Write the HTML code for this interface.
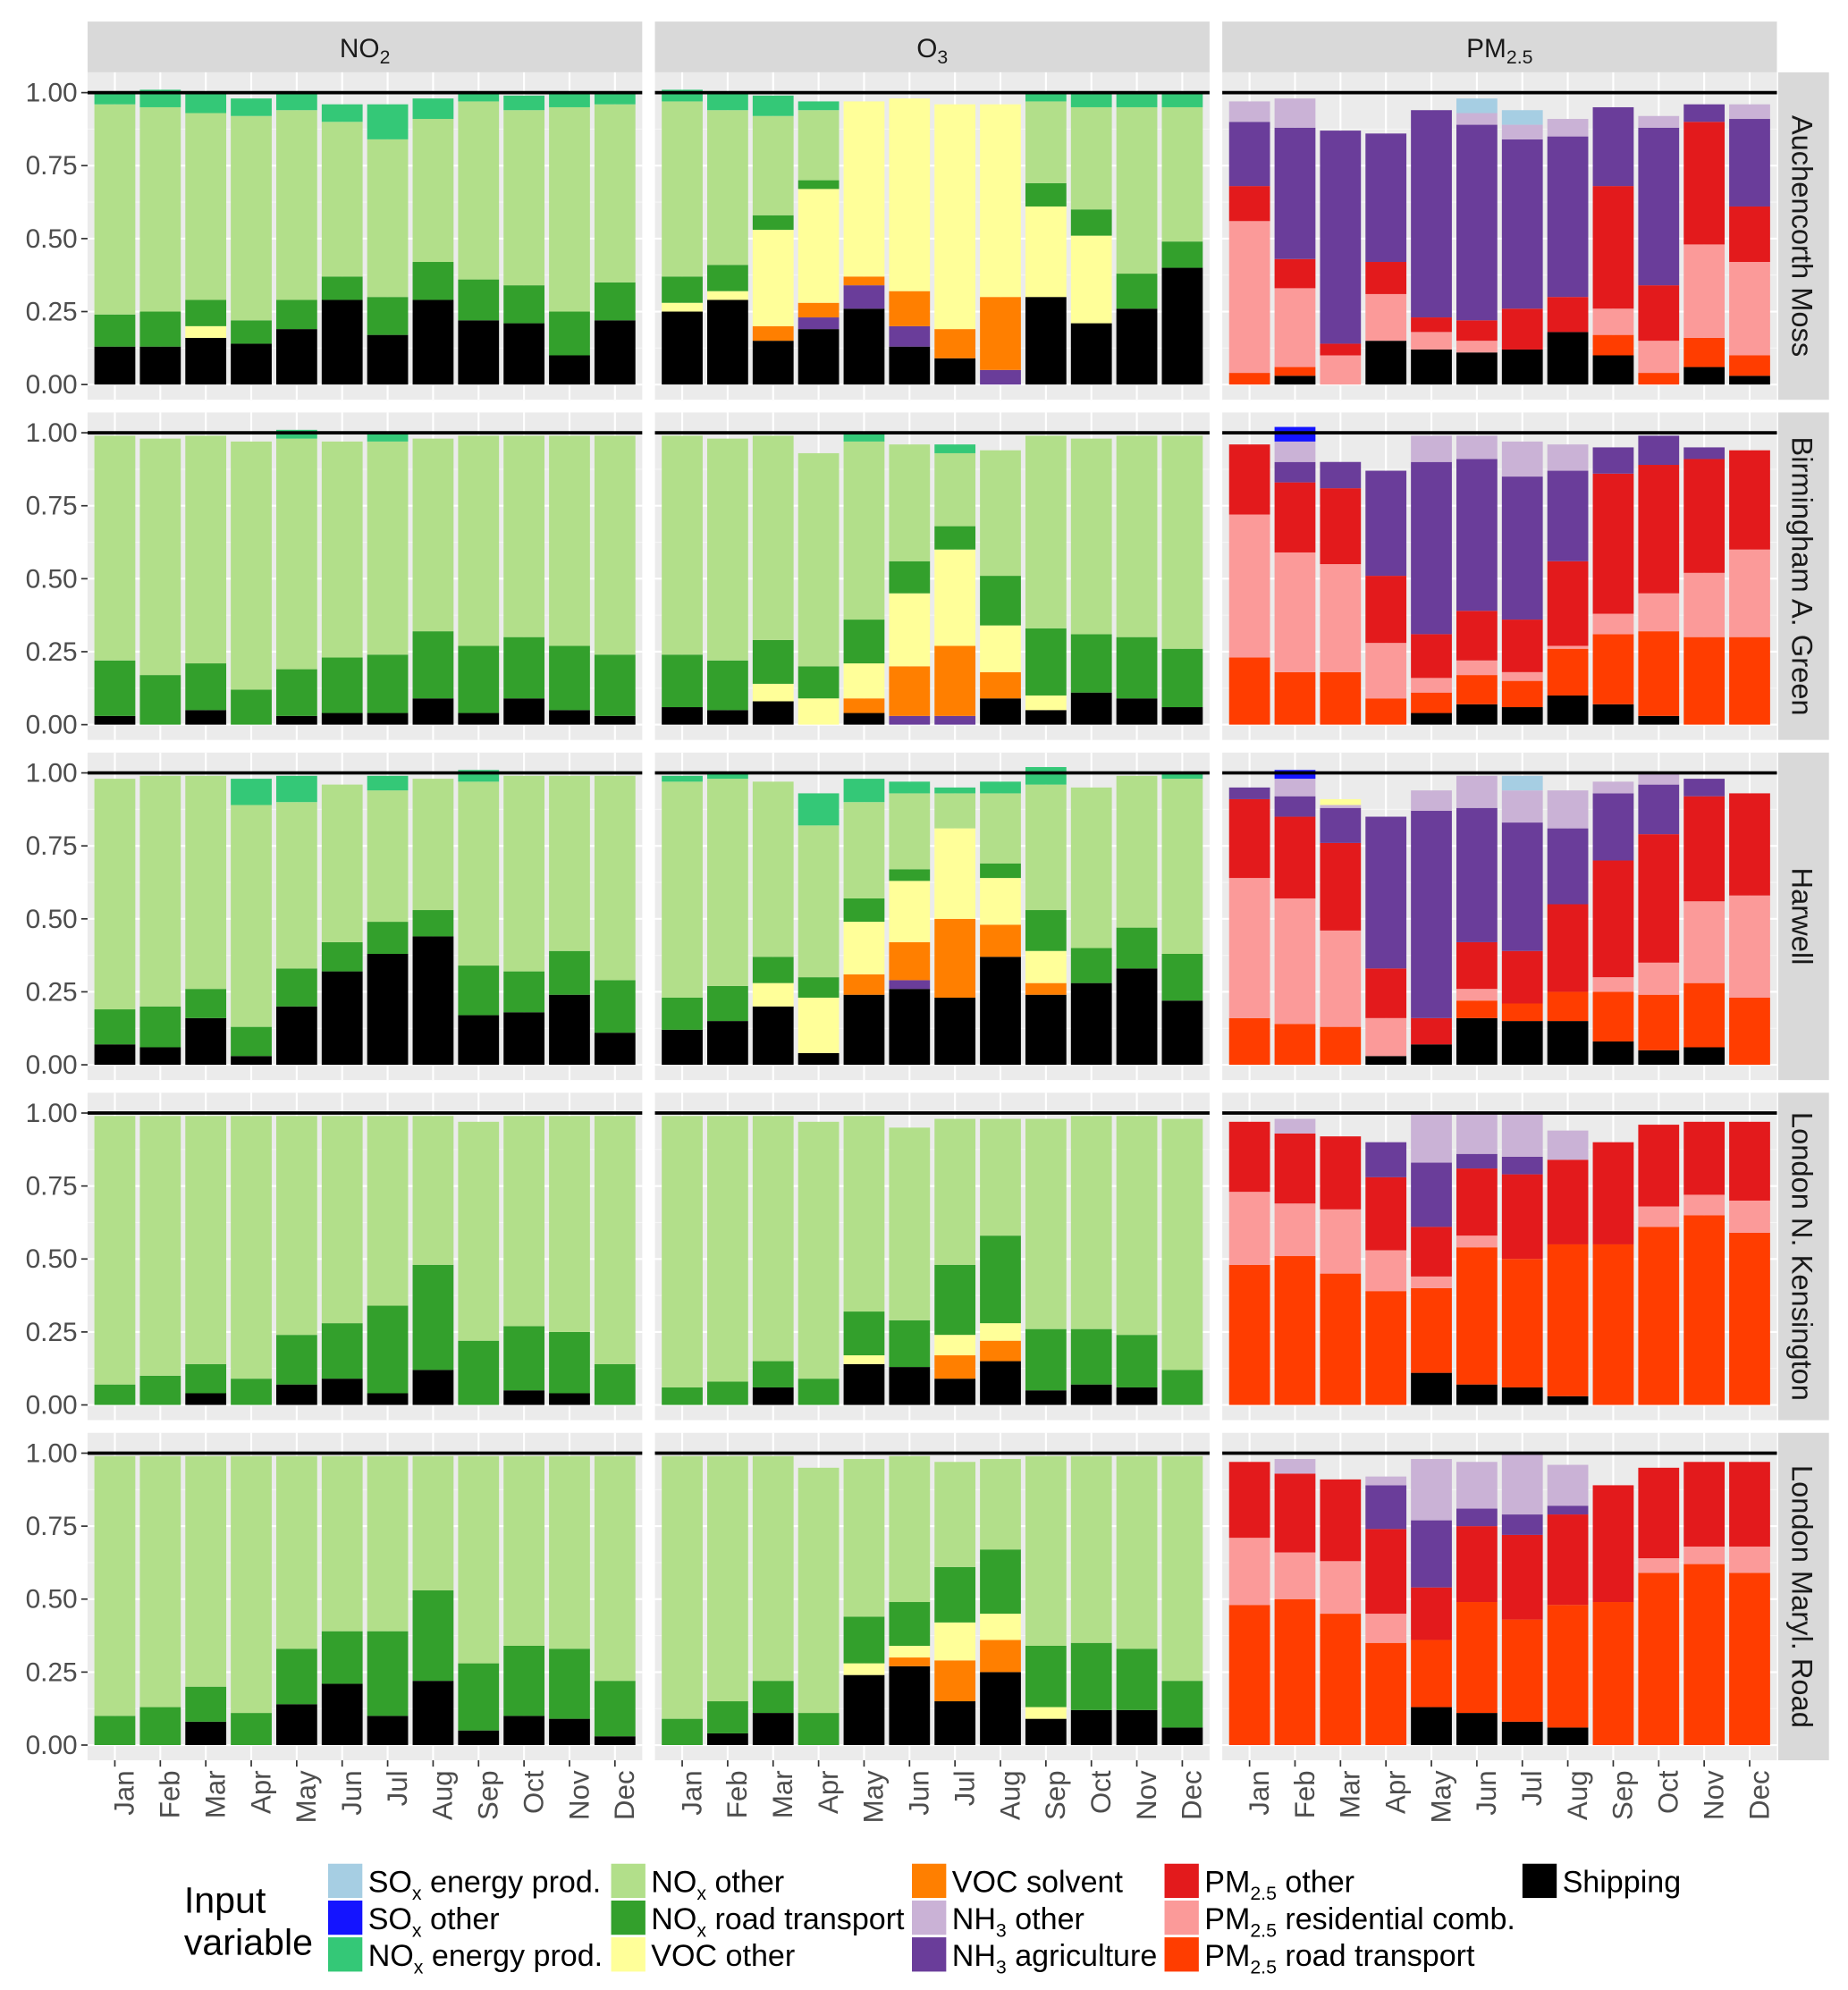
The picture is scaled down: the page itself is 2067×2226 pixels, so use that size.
<!DOCTYPE html>
<html><head><meta charset="utf-8">
<style>
html,body{margin:0;padding:0;background:#fff;}
svg{display:block;font-family:"Liberation Sans",sans-serif;}
.nar{font-family:"Liberation Sans Narrow","Liberation Sans",sans-serif;}
</style></head>
<body>
<svg id="chart" width="2067" height="2226" viewBox="0 0 1456 1568" preserveAspectRatio="none" xmlns="http://www.w3.org/2000/svg"></svg>
<script>
// ---------- data ----------
const months = ["Jan","Feb","Mar","Apr","May","Jun","Jul","Aug","Sep","Oct","Nov","Dec"];
const pollutants = ["NO2","O3","PM2.5"];
const sites = ["Auchencorth Moss","Birmingham A. Green","Harwell","London N. Kensington","London Maryl. Road"];
const yTicks = [0,0.25,0.5,0.75,1.0];
const yTickLabels = ["0.00","0.25","0.50","0.75","1.00"];

// Auchencorth Moss
const auch_no2_sh = [.13,.13,.16,.14,.19,.29,.17,.29,.22,.21,.10,.22];
const auch_no2_vo = [0,0,.04,0,0,0,0,0,0,0,0,0];
const auch_no2_xr = [.11,.12,.09,.08,.10,.08,.13,.13,.14,.13,.15,.13];
const auch_no2_xo = [.72,.70,.64,.70,.65,.53,.54,.49,.61,.60,.70,.61];
const auch_no2_xe = [.04,.06,.07,.06,.06,.06,.12,.07,.03,.05,.05,.04];
const auch_o3_sh = [.25,.29,.15,.19,.26,.13,.09,0,.30,.21,.26,.40];
const auch_o3_na = [0,0,0,.04,.08,.07,0,.05,0,0,0,0];
const auch_o3_vs = [0,0,.05,.05,.03,.12,.10,.25,0,0,0,0];
const auch_o3_vo = [.03,.03,.33,.39,.60,.66,.77,.66,.31,.30,0,0];
const auch_o3_xr = [.09,.09,.05,.03,0,0,0,0,.08,.09,.12,.09];
const auch_o3_xo = [.60,.53,.34,.24,0,0,0,0,.28,.35,.57,.46];
const auch_o3_xe = [.04,.06,.07,.03,0,0,0,0,.03,.05,.05,.05];
const auch_pm_sh = [0,.03,0,.15,.12,.11,.12,.18,.10,0,.06,.03];
const auch_pm_pr = [.04,.03,0,0,0,0,0,0,.07,.04,.10,.07];
const auch_pm_pres = [.52,.27,.10,.16,.06,.04,0,0,.09,.11,.32,.32];
const auch_pm_po = [.12,.10,.04,.11,.05,.07,.14,.12,.42,.19,.42,.19];
const auch_pm_na = [.22,.45,.73,.44,.71,.67,.58,.55,.27,.54,.06,.30];
const auch_pm_no = [.07,.10,0,0,0,.04,.05,.06,0,.04,0,.05];
const auch_pm_se = [0,0,0,0,0,.05,.05,0,0,0,0,0];
// Birmingham
const birm_no2_sh = [.03,0,.05,0,.03,.04,.04,.09,.04,.09,.05,.03];
const birm_no2_xr = [.19,.17,.16,.12,.16,.19,.20,.23,.23,.21,.22,.21];
const birm_no2_xo = [.77,.81,.78,.85,.79,.74,.73,.66,.72,.69,.72,.75];
const birm_no2_xe = [0,0,0,0,.03,0,.03,0,0,0,0,0];
const birm_o3_sh = [.06,.05,.08,0,.04,0,0,.09,.05,.11,.09,.06];
const birm_o3_na = [0,0,0,0,0,.03,.03,0,0,0,0,0];
const birm_o3_vs = [0,0,0,0,.05,.17,.24,.09,0,0,0,0];
const birm_o3_vo = [0,0,.06,.09,.12,.25,.33,.16,.05,0,0,0];
const birm_o3_xr = [.18,.17,.15,.11,.15,.11,.08,.17,.23,.20,.21,.20];
const birm_o3_xo = [.75,.76,.70,.73,.61,.40,.25,.43,.66,.67,.69,.73];
const birm_o3_xe = [0,0,0,0,.03,0,.03,0,0,0,0,0];
const birm_pm_sh = [0,0,0,0,.04,.07,.06,.10,.07,.03,0,0];
const birm_pm_pr = [.23,.18,.18,.09,.07,.10,.09,.16,.24,.29,.30,.30];
const birm_pm_pres = [.49,.41,.37,.19,.05,.05,.03,.01,.07,.13,.22,.30];
const birm_pm_po = [.24,.24,.26,.23,.15,.17,.18,.29,.48,.44,.39,.34];
const birm_pm_na = [0,.07,.09,.36,.59,.52,.49,.31,.09,.10,.04,0];
const birm_pm_no = [0,.07,0,0,.09,.08,.12,.09,0,0,0,0];
const birm_pm_so = [0,.05,0,0,0,0,0,0,0,0,0,0];
// Harwell
const harw_no2_sh = [.07,.06,.16,.03,.20,.32,.38,.44,.17,.18,.24,.11];
const harw_no2_xr = [.12,.14,.10,.10,.13,.10,.11,.09,.17,.14,.15,.18];
const harw_no2_xo = [.79,.79,.73,.76,.57,.54,.45,.45,.63,.67,.60,.70];
const harw_no2_xe = [0,0,0,.09,.09,0,.05,0,.04,0,0,0];
const harw_o3_sh = [.12,.15,.20,.04,.24,.26,.23,.37,.24,.28,.33,.22];
const harw_o3_na = [0,0,0,0,0,.03,0,0,0,0,0,0];
const harw_o3_vs = [0,0,0,0,.07,.13,.27,.11,.04,0,0,0];
const harw_o3_vo = [0,0,.08,.19,.18,.21,.31,.16,.11,0,0,0];
const harw_o3_xr = [.11,.12,.09,.07,.08,.04,0,.05,.14,.12,.14,.16];
const harw_o3_xo = [.74,.71,.60,.52,.33,.26,.12,.24,.43,.55,.52,.60];
const harw_o3_xe = [.02,.02,0,.11,.08,.04,.02,.04,.06,0,0,.02];
const harw_pm_sh = [0,0,0,.03,.07,.16,.15,.15,.08,.05,.06,0];
const harw_pm_pr = [.16,.14,.13,0,0,.06,.06,.10,.17,.19,.22,.23];
const harw_pm_pres = [.48,.43,.33,.13,0,.04,0,0,.05,.11,.28,.35];
const harw_pm_po = [.27,.28,.30,.17,.09,.16,.18,.30,.40,.44,.36,.35];
const harw_pm_na = [.04,.07,.12,.52,.71,.46,.44,.26,.23,.17,.06,0];
const harw_pm_no = [0,.06,.01,0,.07,.11,.11,.13,.04,.04,0,0];
const harw_pm_vo = [0,0,.02,0,0,0,0,0,0,0,0,0];
const harw_pm_so = [0,.03,0,0,0,0,0,0,0,0,0,0];
const harw_pm_se = [0,0,0,0,0,0,.05,0,0,0,0,0];
// London N. Kensington
const kens_no2_sh = [0,0,.04,0,.07,.09,.04,.12,0,.05,.04,0];
const kens_no2_xr = [.07,.10,.10,.09,.17,.19,.30,.36,.22,.22,.21,.14];
const kens_no2_xo = [.92,.89,.85,.90,.75,.71,.65,.51,.75,.72,.74,.85];
const kens_o3_sh = [0,0,.06,0,.14,.13,.09,.15,.05,.07,.06,0];
const kens_o3_vs = [0,0,0,0,0,0,.08,.07,0,0,0,0];
const kens_o3_vo = [0,0,0,0,.03,0,.07,.06,0,0,0,0];
const kens_o3_xr = [.06,.08,.09,.09,.15,.16,.24,.30,.21,.19,.18,.12];
const kens_o3_xo = [.93,.91,.84,.88,.67,.66,.50,.40,.72,.73,.75,.86];
const kens_pm_sh = [0,0,0,0,.11,.07,.06,.03,0,0,0,0];
const kens_pm_pr = [.48,.51,.45,.39,.29,.47,.44,.52,.55,.61,.65,.59];
const kens_pm_pres = [.25,.18,.22,.14,.04,.04,0,0,0,.07,.07,.11];
const kens_pm_po = [.24,.24,.25,.25,.17,.23,.29,.29,.35,.28,.25,.27];
const kens_pm_na = [0,0,0,.12,.22,.05,.06,0,0,0,0,0];
const kens_pm_no = [0,.05,0,0,.17,.14,.15,.10,0,0,0,0];
// London Marylebone Road
const mary_no2_sh = [0,0,.08,0,.14,.21,.10,.22,.05,.10,.09,.03];
const mary_no2_xr = [.10,.13,.12,.11,.19,.18,.29,.31,.23,.24,.24,.19];
const mary_no2_xo = [.89,.86,.79,.88,.66,.60,.60,.46,.71,.65,.66,.77];
const mary_o3_sh = [0,.04,.11,0,.24,.27,.15,.25,.09,.12,.12,.06];
const mary_o3_vs = [0,0,0,0,0,.03,.14,.11,0,0,0,0];
const mary_o3_vo = [0,0,0,0,.04,.04,.13,.09,.04,0,0,0];
const mary_o3_xr = [.09,.11,.11,.11,.16,.15,.19,.22,.21,.23,.21,.16];
const mary_o3_xo = [.90,.84,.77,.84,.54,.50,.36,.31,.65,.64,.66,.77];
const mary_pm_sh = [0,0,0,0,.13,.11,.08,.06,0,0,0,0];
const mary_pm_pr = [.48,.50,.45,.35,.23,.38,.35,.42,.49,.59,.62,.59];
const mary_pm_pres = [.23,.16,.18,.10,0,0,0,0,0,.05,.06,.09];
const mary_pm_po = [.26,.27,.28,.29,.18,.26,.29,.31,.40,.31,.29,.29];
const mary_pm_na = [0,0,0,.15,.23,.06,.07,.03,0,0,0,0];
const mary_pm_no = [0,.05,0,.03,.21,.16,.21,.14,0,0,0,0];

const panels = [
 [ {sh:auch_no2_sh,vo:auch_no2_vo,xr:auch_no2_xr,xo:auch_no2_xo,xe:auch_no2_xe},
   {sh:auch_o3_sh,na:auch_o3_na,vs:auch_o3_vs,vo:auch_o3_vo,xr:auch_o3_xr,xo:auch_o3_xo,xe:auch_o3_xe},
   {sh:auch_pm_sh,pr:auch_pm_pr,pres:auch_pm_pres,po:auch_pm_po,na:auch_pm_na,no:auch_pm_no,se:auch_pm_se} ],
 [ {sh:birm_no2_sh,xr:birm_no2_xr,xo:birm_no2_xo,xe:birm_no2_xe},
   {sh:birm_o3_sh,na:birm_o3_na,vs:birm_o3_vs,vo:birm_o3_vo,xr:birm_o3_xr,xo:birm_o3_xo,xe:birm_o3_xe},
   {sh:birm_pm_sh,pr:birm_pm_pr,pres:birm_pm_pres,po:birm_pm_po,na:birm_pm_na,no:birm_pm_no,so:birm_pm_so} ],
 [ {sh:harw_no2_sh,xr:harw_no2_xr,xo:harw_no2_xo,xe:harw_no2_xe},
   {sh:harw_o3_sh,na:harw_o3_na,vs:harw_o3_vs,vo:harw_o3_vo,xr:harw_o3_xr,xo:harw_o3_xo,xe:harw_o3_xe},
   {sh:harw_pm_sh,pr:harw_pm_pr,pres:harw_pm_pres,po:harw_pm_po,na:harw_pm_na,no:harw_pm_no,vo:harw_pm_vo,so:harw_pm_so,se:harw_pm_se} ],
 [ {sh:kens_no2_sh,xr:kens_no2_xr,xo:kens_no2_xo},
   {sh:kens_o3_sh,vs:kens_o3_vs,vo:kens_o3_vo,xr:kens_o3_xr,xo:kens_o3_xo},
   {sh:kens_pm_sh,pr:kens_pm_pr,pres:kens_pm_pres,po:kens_pm_po,na:kens_pm_na,no:kens_pm_no} ],
 [ {sh:mary_no2_sh,xr:mary_no2_xr,xo:mary_no2_xo},
   {sh:mary_o3_sh,vs:mary_o3_vs,vo:mary_o3_vo,xr:mary_o3_xr,xo:mary_o3_xo},
   {sh:mary_pm_sh,pr:mary_pm_pr,pres:mary_pm_pres,po:mary_pm_po,na:mary_pm_na,no:mary_pm_no} ]
];
const stackOrder = ["sh","pr","pres","po","na","no","vs","vo","xr","xo","xe","so","se"];
const colors = {se:"#A6CEE3",so:"#1414FF",xe:"#34C877",xo:"#B2DF8A",xr:"#33A02C",vo:"#FFFF99",vs:"#FF7F00",no:"#CAB2D6",na:"#6A3D9A",po:"#E31A1C",pres:"#FB9A99",pr:"#FF3D00",sh:"#000000"};

// ---------- drawing ----------
const NS="http://www.w3.org/2000/svg";
const svg=document.getElementById('chart');
function mk(tag,attrs,parent){const e=document.createElementNS(NS,tag);for(const k in attrs)e.setAttribute(k,attrs[k]);(parent||svg).appendChild(e);return e;}

const colLeft=c=>69+c*447, colW=437;
const rowTop=r=>57+r*268, rowH=258;
const yScale=(r,v)=>rowTop(r)+246-v*230;
const xScale=(c,i)=>colLeft(c)+(i+0.6)*colW/12.2;
const barW=0.9*colW/12.2;

pollutants.forEach((p,c)=>{
  const g=mk('g',{});
  
  
  mk('rect',{x:colLeft(c),y:17,width:colW,height:40,fill:"#D9D9D9"},g);
  const t=mk('text',{x:colLeft(c)+colW/2,y:45,'text-anchor':'middle','font-size':21,fill:'#1a1a1a'},g);
  if(c===0){t.innerHTML='NO<tspan font-size="15" dy="5">2</tspan>';}
  else if(c===1){t.innerHTML='O<tspan font-size="15" dy="5">3</tspan>';}
  else {t.innerHTML='PM<tspan font-size="15" dy="5">2.5</tspan>';}
});
sites.forEach((s,r)=>{
  const g=mk('g',{});
  
  
  mk('rect',{x:1401,y:rowTop(r),width:40,height:rowH,fill:"#D9D9D9"},g);
  const cx=1412, cy=rowTop(r)+rowH/2;
  const t=mk('text',{x:cx,y:cy,'text-anchor':'middle','font-size':23,fill:'#1a1a1a',transform:`rotate(90 ${cx} ${cy})`},g);
  t.textContent=s;
});

for(let r=0;r<5;r++){
  for(let c=0;c<3;c++){
    const g=mk('g',{});
    
    
    mk('rect',{x:colLeft(c),y:rowTop(r),width:colW,height:rowH,fill:'#EBEBEB'},g);
    [0.125,0.375,0.625,0.875].forEach(v=>mk('line',{x1:colLeft(c),x2:colLeft(c)+colW,y1:yScale(r,v),y2:yScale(r,v),stroke:'#F5F5F5','stroke-width':0.8},g));
    yTicks.forEach(v=>mk('line',{x1:colLeft(c),x2:colLeft(c)+colW,y1:yScale(r,v),y2:yScale(r,v),stroke:'#FFFFFF','stroke-width':1.5},g));
    months.forEach((m,i)=>mk('line',{x1:xScale(c,i),x2:xScale(c,i),y1:rowTop(r),y2:rowTop(r)+rowH,stroke:'#FFFFFF','stroke-width':1.5},g));
    const P=panels[r][c];
    months.forEach((m,i)=>{
      let cum=0;
      stackOrder.forEach(k=>{
        const arr=P[k]; if(!arr) return;
        const v=arr[i]; if(!v) return;
        const y1=yScale(r,cum+v), y0=yScale(r,cum);
        const rect=mk('rect',{x:xScale(c,i)-barW/2,y:y1,width:barW,height:y0-y1,fill:colors[k]},g);
        
        
        cum+=v;
      });
    });
    mk('line',{x1:colLeft(c),x2:colLeft(c)+colW,y1:yScale(r,1),y2:yScale(r,1),stroke:'#000','stroke-width':2.6},g);
  }
  const ya=mk('g',{});
  
  
  yTicks.forEach((v,j)=>{
    mk('line',{x1:64,x2:69,y1:yScale(r,v),y2:yScale(r,v),stroke:'#333','stroke-width':1.2},ya);
    const t=mk('text',{x:61,y:yScale(r,v)+7,'text-anchor':'end','font-size':21,fill:'#4d4d4d',class:'nar'},ya);
    t.textContent=yTickLabels[j];
  });
}
for(let c=0;c<3;c++){
  const xa=mk('g',{});
  
  
  months.forEach((m,i)=>{
    const x=xScale(c,i), yb=rowTop(4)+rowH;
    mk('line',{x1:x,x2:x,y1:yb,y2:yb+5,stroke:'#333','stroke-width':1.2},xa);
    const ty=yb+8, tx=x+15;
    const t=mk('text',{x:tx,y:ty,'text-anchor':'end','font-size':22,fill:'#4d4d4d',transform:`rotate(-90 ${tx} ${ty})`},xa);
    t.textContent=m;
  });
}
const leg=mk('g',{});


const lt1=mk('text',{x:145,y:1507,'font-size':29,fill:'#000',class:'nar'},leg); lt1.textContent='Input';
const lt2=mk('text',{x:145,y:1540,'font-size':29,fill:'#000',class:'nar'},leg); lt2.textContent='variable';
const legendItems=[
 ['se',258,0,'SO<tspan font-size="15" dy="6">x</tspan><tspan dy="-6"> energy prod.</tspan>'],
 ['so',258,1,'SO<tspan font-size="15" dy="6">x</tspan><tspan dy="-6"> other</tspan>'],
 ['xe',258,2,'NO<tspan font-size="15" dy="6">x</tspan><tspan dy="-6"> energy prod.</tspan>'],
 ['xo',481,0,'NO<tspan font-size="15" dy="6">x</tspan><tspan dy="-6"> other</tspan>'],
 ['xr',481,1,'NO<tspan font-size="15" dy="6">x</tspan><tspan dy="-6"> road transport</tspan>'],
 ['vo',481,2,'VOC other'],
 ['vs',718,0,'VOC solvent'],
 ['no',718,1,'NH<tspan font-size="15" dy="6">3</tspan><tspan dy="-6"> other</tspan>'],
 ['na',718,2,'NH<tspan font-size="15" dy="6">3</tspan><tspan dy="-6"> agriculture</tspan>'],
 ['po',917,0,'PM<tspan font-size="15" dy="6">2.5</tspan><tspan dy="-6"> other</tspan>'],
 ['pres',917,1,'PM<tspan font-size="15" dy="6">2.5</tspan><tspan dy="-6"> residential comb.</tspan>'],
 ['pr',917,2,'PM<tspan font-size="15" dy="6">2.5</tspan><tspan dy="-6"> road transport</tspan>'],
 ['sh',1199,0,'Shipping']
];
legendItems.forEach(([k,x,row,label])=>{
  const y=1468+row*29;
  const e=mk('g',{},leg);
  
  
  mk('rect',{x:x,y:y,width:28,height:28,fill:colors[k],stroke:'#fff','stroke-width':1},e);
  const t=mk('text',{x:x+32,y:y+23,'font-size':24,fill:'#000',class:'nar'},e);
  t.innerHTML=label;
});
</script>
</body></html>
